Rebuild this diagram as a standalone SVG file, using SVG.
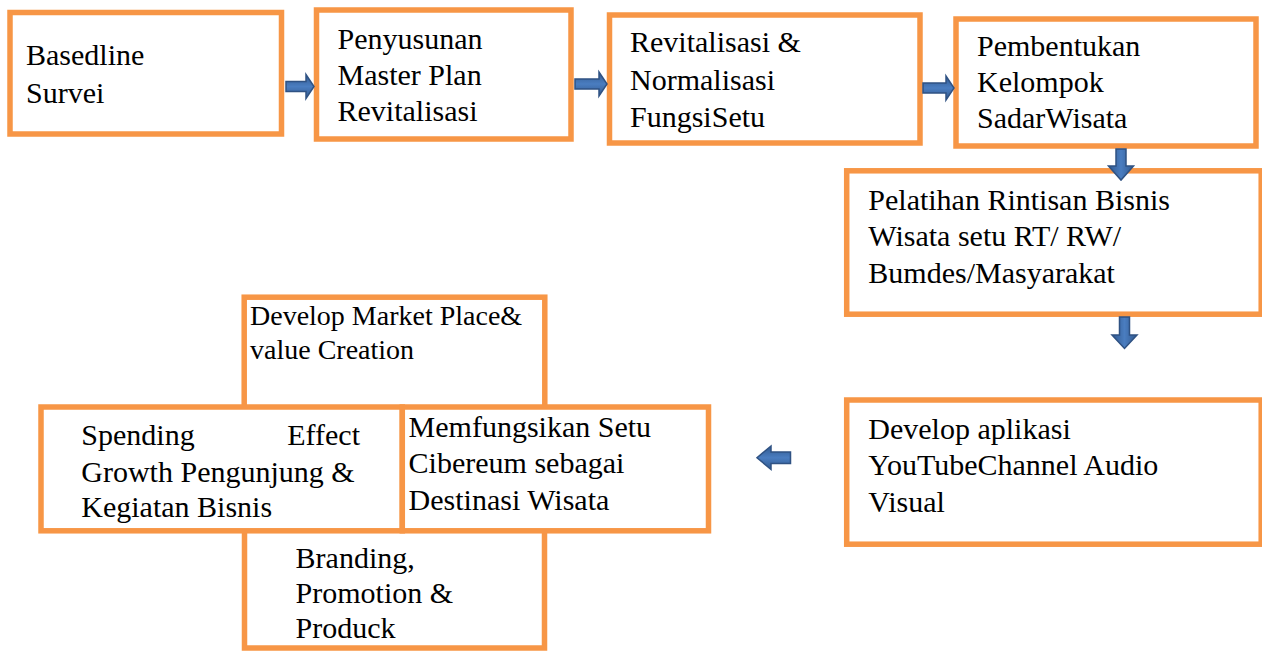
<svg xmlns="http://www.w3.org/2000/svg" width="1262" height="651" viewBox="0 0 1262 651">
<style>
.box{fill:#ffffff;stroke:#f79646;stroke-width:5.5}
.t{font-family:"Liberation Serif","Times New Roman",serif;font-size:30px;fill:#000}
.ts{font-family:"Liberation Serif","Times New Roman",serif;font-size:28px;fill:#000}
.ah{fill:url(#gh);stroke:#2f5283;stroke-width:1.5}
.av{fill:url(#gv);stroke:#2f5283;stroke-width:1.5}
</style>
<defs>
<linearGradient id="gh" x1="0" y1="0" x2="0" y2="1">
<stop offset="0" stop-color="#31598f"/>
<stop offset="0.5" stop-color="#4a7dc0"/>
<stop offset="1" stop-color="#31598f"/>
</linearGradient>
<linearGradient id="gv" x1="0" y1="0" x2="1" y2="0">
<stop offset="0" stop-color="#31598f"/>
<stop offset="0.5" stop-color="#4a7dc0"/>
<stop offset="1" stop-color="#31598f"/>
</linearGradient>
</defs>
<rect width="1262" height="651" fill="#ffffff"/>

<g id="n1">
<rect class="box" x="10" y="12.5" width="271.5" height="121.5"/>
<text class="t"><tspan x="26" y="65">Basedline</tspan><tspan x="26" y="103">Survei</tspan></text>
</g>
<g id="n2">
<rect class="box" x="316.5" y="10" width="254.5" height="129"/>
<text class="t"><tspan x="337.5" y="48.5">Penyusunan</tspan><tspan x="337.5" y="85">Master Plan</tspan><tspan x="337.5" y="120.5">Revitalisasi</tspan></text>
</g>
<g id="n3">
<rect class="box" x="609.5" y="15" width="310.5" height="128"/>
<text class="t"><tspan x="630" y="52">Revitalisasi &amp;</tspan><tspan x="630" y="89.5">Normalisasi</tspan><tspan x="630" y="127">FungsiSetu</tspan></text>
</g>
<g id="n4">
<rect class="box" x="956" y="19" width="300" height="127"/>
<text class="t"><tspan x="977" y="55.5">Pembentukan</tspan><tspan x="977" y="91.5">Kelompok</tspan><tspan x="977" y="128">SadarWisata</tspan></text>
</g>
<g id="n5">
<rect class="box" x="846.7" y="170.8" width="414.5" height="143.4"/>
<text class="t"><tspan x="868.3" y="210">Pelatihan Rintisan Bisnis</tspan><tspan x="868.3" y="246">Wisata setu RT/ RW/</tspan><tspan x="868.3" y="282.5">Bumdes/Masyarakat</tspan></text>
</g>
<g id="n6">
<rect class="box" x="846.7" y="400" width="414.5" height="144.2"/>
<text class="t"><tspan x="868.3" y="438.5">Develop aplikasi</tspan><tspan x="868.3" y="475">YouTubeChannel Audio</tspan><tspan x="868.3" y="511.5">Visual</tspan></text>
</g>
<g id="n7">
<rect class="box" x="244.2" y="297.2" width="300.6" height="120"/>
<text class="ts"><tspan x="250" y="325">Develop Market Place&amp;</tspan><tspan x="250" y="358.5">value Creation</tspan></text>
</g>
<g id="n10">
<rect class="box" x="244.5" y="520" width="300" height="128"/>
<text class="t"><tspan x="295.6" y="568.3">Branding,</tspan><tspan x="295.6" y="603.3">Promotion &amp;</tspan><tspan x="295.6" y="638.3">Produck</tspan></text>
</g>
<g id="n8">
<rect class="box" x="41" y="407" width="361.3" height="123.8"/>
<text class="t"><tspan x="81.3" y="445">Spending</tspan><tspan x="360" y="445" text-anchor="end">Effect</tspan><tspan x="81.3" y="481.7">Growth Pengunjung &amp;</tspan><tspan x="81.3" y="516.7">Kegiatan Bisnis</tspan></text>
</g>
<g id="n9">
<rect class="box" x="402.3" y="407" width="306.2" height="123.8"/>
<text class="t"><tspan x="408.6" y="436.7">Memfungsikan Setu</tspan><tspan x="408.6" y="473.3">Cibereum sebagai</tspan><tspan x="408.6" y="510">Destinasi Wisata</tspan></text>
</g>

<g id="connectors">
<path class="ah" d="M286,81.5 H306 V74.5 L314,86.5 L306,98.5 V91.5 H286 Z"/>
<path class="ah" d="M575,79 H599 V72 L607,84 L599,96 V89 H575 Z"/>
<path class="ah" d="M923,83 H946 V76 L954,88 L946,100 V93 H923 Z"/>
<path class="av" d="M1116,149 V166 H1108.5 L1121,180 L1133.5,166 H1126 V149 Z"/>
<path class="av" d="M1119.5,317 V335 H1112 L1124.5,348.5 L1137,335 H1129.5 V317 Z"/>
<path class="ah" d="M790.5,452 H771 V446 L757,457.7 L771,469.5 V463.5 H790.5 Z"/>
</g>
</svg>
